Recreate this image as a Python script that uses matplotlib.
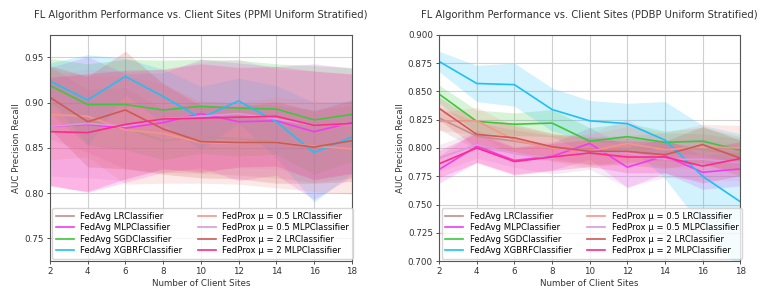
import matplotlib
matplotlib.use("Agg")
import matplotlib.pyplot as plt
import numpy as np

sites = [2, 4, 6, 8, 10, 12, 14, 16, 18]

labels = ["FedAvg LRClassifier", "FedAvg MLPClassifier", "FedAvg SGDClassifier",
          "FedAvg XGBRFClassifier", "FedProx \u03bc = 0.5 LRClassifier",
          "FedProx \u03bc = 0.5 MLPClassifier", "FedProx \u03bc = 2 LRClassifier",
          "FedProx \u03bc = 2 MLPClassifier"]
colors = ["#c48e8e", "#f03cf0", "#3cc83c", "#1ec0f5",
          "#f4958a", "#d99ad9", "#cc5a55", "#ff2a8a"]

# PPMI means
ppmi_mean = [
    [0.900, 0.880, 0.872, 0.858, 0.862, 0.860, 0.857, 0.852, 0.857],
    [0.874, 0.876, 0.872, 0.878, 0.888, 0.879, 0.880, 0.868, 0.878],
    [0.919, 0.898, 0.898, 0.892, 0.896, 0.894, 0.893, 0.881, 0.887],
    [0.924, 0.903, 0.929, 0.907, 0.883, 0.902, 0.879, 0.845, 0.862],
    [0.887, 0.885, 0.870, 0.866, 0.856, 0.855, 0.856, 0.852, 0.849],
    [0.874, 0.877, 0.874, 0.882, 0.885, 0.888, 0.882, 0.875, 0.876],
    [0.906, 0.879, 0.892, 0.871, 0.857, 0.856, 0.856, 0.851, 0.858],
    [0.868, 0.867, 0.876, 0.882, 0.883, 0.884, 0.885, 0.875, 0.877],
]
ppmi_std = [
    [0.040, 0.035, 0.045, 0.035, 0.040, 0.040, 0.040, 0.040, 0.040],
    [0.065, 0.075, 0.060, 0.055, 0.060, 0.065, 0.060, 0.075, 0.060],
    [0.030, 0.045, 0.050, 0.055, 0.052, 0.053, 0.050, 0.060, 0.052],
    [0.020, 0.050, 0.020, 0.030, 0.035, 0.025, 0.040, 0.055, 0.040],
    [0.050, 0.045, 0.060, 0.055, 0.045, 0.045, 0.050, 0.050, 0.050],
    [0.055, 0.060, 0.060, 0.055, 0.060, 0.060, 0.055, 0.060, 0.055],
    [0.035, 0.050, 0.065, 0.050, 0.040, 0.040, 0.045, 0.040, 0.045],
    [0.060, 0.065, 0.060, 0.055, 0.060, 0.055, 0.055, 0.060, 0.055],
]

# PDBP means
pdbp_mean = [
    [0.8265, 0.8105, 0.806, 0.801, 0.798, 0.799, 0.8015, 0.7985, 0.794],
    [0.781, 0.8015, 0.789, 0.7926, 0.804, 0.783, 0.793, 0.7785, 0.7815],
    [0.8476, 0.8235, 0.821, 0.822, 0.806, 0.810, 0.805, 0.806, 0.798],
    [0.8765, 0.857, 0.856, 0.834, 0.824, 0.8215, 0.807, 0.775, 0.7525],
    [0.8235, 0.824, 0.807, 0.800, 0.797, 0.804, 0.7985, 0.801, 0.800],
    [0.791, 0.803, 0.795, 0.791, 0.797, 0.7955, 0.790, 0.790, 0.787],
    [0.835, 0.812, 0.809, 0.801, 0.797, 0.797, 0.794, 0.803, 0.791],
    [0.786, 0.800, 0.788, 0.792, 0.7956, 0.792, 0.792, 0.784, 0.7906],
]
pdbp_std = [
    [0.010, 0.012, 0.010, 0.010, 0.012, 0.012, 0.012, 0.014, 0.014],
    [0.012, 0.014, 0.012, 0.012, 0.014, 0.018, 0.015, 0.015, 0.015],
    [0.008, 0.010, 0.010, 0.012, 0.012, 0.012, 0.010, 0.012, 0.012],
    [0.009, 0.016, 0.019, 0.019, 0.018, 0.018, 0.034, 0.045, 0.060],
    [0.008, 0.012, 0.012, 0.012, 0.015, 0.015, 0.015, 0.020, 0.020],
    [0.012, 0.012, 0.012, 0.014, 0.016, 0.030, 0.016, 0.018, 0.016],
    [0.010, 0.012, 0.012, 0.012, 0.012, 0.012, 0.012, 0.016, 0.016],
    [0.012, 0.013, 0.012, 0.012, 0.012, 0.014, 0.014, 0.015, 0.015],
]


def draw(ax, means, stds, title, ylim, yticks):
    x = np.array(sites)
    for m, s, c, lab in zip(means, stds, colors, labels):
        m = np.array(m)
        s = np.array(s)
        ax.plot(x, m, color=c, lw=1.2, label=lab)
        ax.fill_between(x, m - s, m + s, color=c, alpha=0.2, lw=0)
    ax.set_xlim(2, 18)
    ax.set_ylim(*ylim)
    ax.set_xticks(sites)
    ax.set_yticks(yticks)
    ax.grid(True, color="#d0d0d0", lw=0.8)
    ax.set_axisbelow(True)
    for sp in ax.spines.values():
        sp.set_color("#555555")
        sp.set_linewidth(0.8)
    ax.tick_params(labelsize=6.3, length=2.5, width=0.6, colors="#333333", pad=2)
    ax.set_title(title, fontsize=7.2, color="#333333", pad=12)
    ax.set_xlabel("Number of Client Sites", fontsize=6.3, color="#333333", labelpad=2)
    ax.set_ylabel("AUC Precision Recall", fontsize=6.3, color="#333333", labelpad=2)
    ax.legend(loc="lower left", ncol=2, fontsize=6.1, frameon=True,
              framealpha=0.8, edgecolor="#cccccc", borderaxespad=0.3,
              handlelength=2.1, columnspacing=1.8, labelspacing=0.3,
              borderpad=0.4)


fig = plt.figure(figsize=(7.8, 2.93), dpi=100)
ax1 = fig.add_axes([0.064, 0.109, 0.387, 0.772])
ax2 = fig.add_axes([0.563, 0.109, 0.386, 0.772])

draw(ax1, ppmi_mean, ppmi_std,
     "FL Algorithm Performance vs. Client Sites (PPMI Uniform Stratified)",
     (0.725, 0.975), [0.75, 0.80, 0.85, 0.90, 0.95])
ax1.yaxis.set_major_formatter(matplotlib.ticker.FormatStrFormatter("%.2f"))
draw(ax2, pdbp_mean, pdbp_std,
     "FL Algorithm Performance vs. Client Sites (PDBP Uniform Stratified)",
     (0.700, 0.900), [0.700, 0.725, 0.750, 0.775, 0.800, 0.825, 0.850, 0.875, 0.900])
ax2.yaxis.set_major_formatter(matplotlib.ticker.FormatStrFormatter("%.3f"))

fig.savefig("out.png", dpi=100)
